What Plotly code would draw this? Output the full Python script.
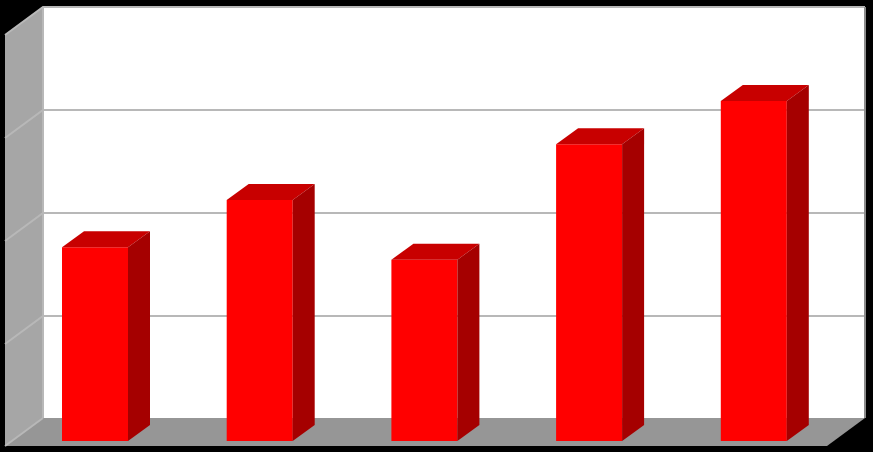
import plotly.graph_objects as go

# Data (category labels are hidden in the reference)
categories = [0, 1, 2, 3, 4]
values = [1.88, 2.34, 1.76, 2.88, 3.30]
grid_ticks = [0, 1, 2, 3, 4]

W, H = 873, 452
step_x = 164.7       # pixels per category
unit_y = 103.0       # pixels per value unit
x_range = [-95 / step_x, (W - 95) / step_x]
y_range = [-(H - 441) / unit_y, 441 / unit_y]

bar_w = 66 / step_x
bar_dx, bar_dy = 22 / step_x, 16 / unit_y    # bar depth
wall_dx, wall_dy = 38 / step_x, 28 / unit_y  # chart depth
front_x = (5 - 95) / step_x
front_y = (441 - 446) / unit_y
right_x = (865 - 95) / step_x
back_x, back_y = front_x + wall_dx, front_y + wall_dy
grid_shift = -1 / unit_y                     # gridlines sit one pixel below the floor edge
top_y = back_y + grid_shift + max(grid_ticks)

WALL, FLOOR, GRID = "#a6a6a6", "#969696", "#b8b8b8"
FRONT, TOP, SIDE = "#ff0000", "#c80000", "#a50000"

fig = go.Figure()


def poly(xs, ys, color, axes="x", yaxes="y"):
    fig.add_trace(go.Scatter(x=xs, y=ys, mode="lines", fill="toself", fillcolor=color,
                             line=dict(width=0), hoverinfo="skip", showlegend=False,
                             xaxis=axes, yaxis=yaxes))


def line(xs, ys, color, width=2):
    fig.add_trace(go.Scatter(x=xs, y=ys, mode="lines", line=dict(color=color, width=width),
                             hoverinfo="skip", showlegend=False))


# back wall, left wall, floor
poly([back_x, right_x, right_x, back_x], [back_y, back_y, top_y, top_y], "#ffffff")
poly([front_x, back_x, back_x, front_x], [front_y, back_y, top_y, top_y - wall_dy], WALL)
poly([front_x, back_x, right_x, right_x - wall_dx], [front_y, back_y, back_y, front_y], FLOOR)

# gridlines running along left wall and back wall
for t in grid_ticks[1:]:
    y = t + grid_shift
    line([front_x, back_x, right_x], [front_y + y, back_y + y, back_y + y], GRID)
line([back_x, back_x], [back_y, top_y], GRID)
line([right_x, right_x], [back_y, top_y], "#8c8c8c")
line([front_x, back_x], [front_y, back_y], GRID)

# bars: front faces through the bar scale, top and side faces derived from the values
fig.add_trace(go.Bar(x=categories, y=values, width=bar_w, marker=dict(color=FRONT, line=dict(width=0)),
                     showlegend=False, xaxis="x2", yaxis="y2"))
for c, v in zip(categories, values):
    l, r = c - bar_w / 2, c + bar_w / 2
    poly([l, r, r + bar_dx, l + bar_dx], [v, v, v + bar_dy, v + bar_dy], TOP, "x2", "y2")
    poly([r, r + bar_dx, r + bar_dx, r], [0, bar_dy, v + bar_dy, v], SIDE, "x2", "y2")

axis = dict(visible=False, fixedrange=True)
fig.update_layout(
    width=W, height=H, margin=dict(l=0, r=0, t=0, b=0),
    paper_bgcolor="#000000", plot_bgcolor="#000000", showlegend=False,
    xaxis=dict(range=x_range, **axis), yaxis=dict(range=y_range, **axis),
    xaxis2=dict(range=x_range, overlaying="x", **axis),
    yaxis2=dict(range=y_range, overlaying="y", **axis),
)
fig.write_html("out.html", config={"displayModeBar": False},
               post_script="document.body.style.margin='0';document.body.style.background='#000';")
